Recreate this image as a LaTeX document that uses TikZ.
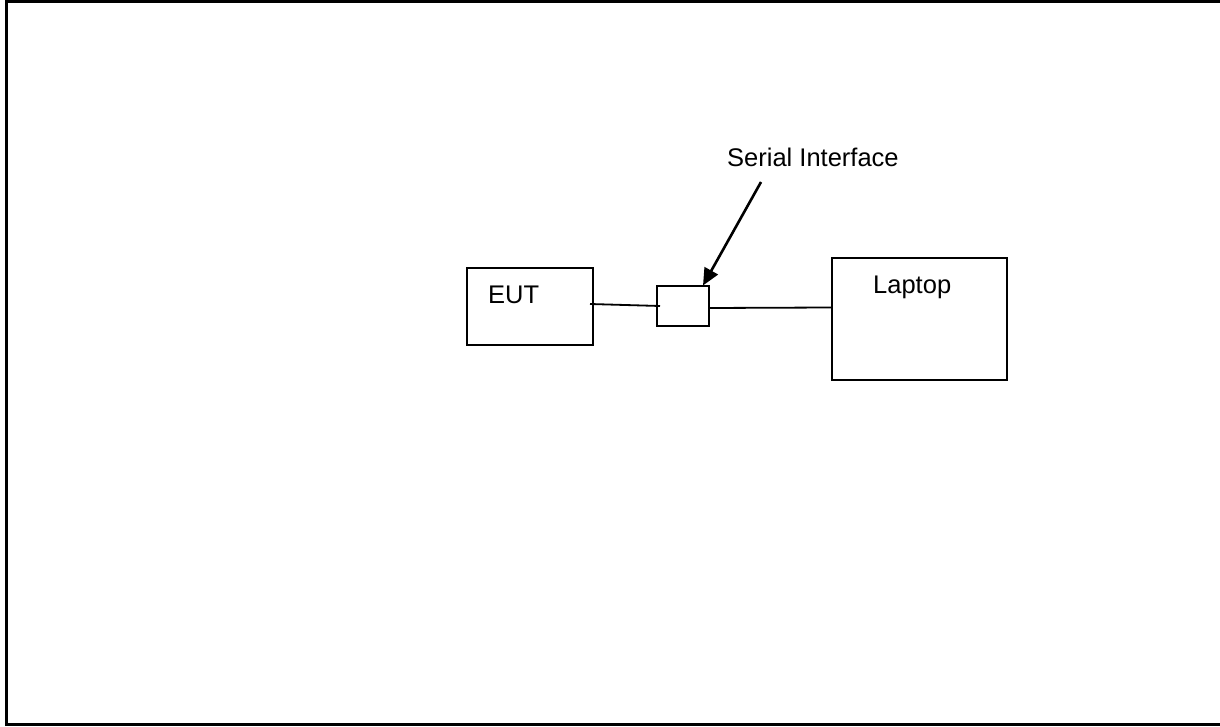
\documentclass[tikz,border=0pt]{standalone}
\usepackage{fontspec}
\setmainfont{Liberation Sans}
\usetikzlibrary{arrows.meta}
\begin{document}
\begin{tikzpicture}[x=1pt,y=-1pt,
  box/.style={draw=black,line width=2pt,inner sep=0pt,minimum width=#1},
  lbl/.style={anchor=base west,inner sep=0pt,font=\fontsize{25.5}{30}\selectfont},
  wire/.style={draw=black,line width=1.8pt},
  pointer/.style={draw=black,line width=2.6pt,-{Triangle[length=17pt,width=15pt]}},
  frame/.style={draw=black,line width=3.2pt}]
\useasboundingbox (0,0) rectangle (1220,727);
% outer frame (left, top, bottom)
\coordinate (ftr) at (1220,1.6);
\coordinate (ftl) at (6.5,1.6);
\coordinate (fbl) at (6.5,724.8);
\coordinate (fbr) at (1220,724.8);
\draw[frame] (ftr) -- (ftl) -- (fbl) -- (fbr);
% boxes
\node[box=126pt,minimum height=77pt] (eut) at (530,306.5) {};
\node[box=175pt,minimum height=122pt] (laptop) at (919,319) {};
\node[box=52pt,minimum height=40pt] (sib) at (683,306) {};
% labels
\node[lbl] (eutlbl) at (488,303) {EUT};
\node[lbl] (laptoplbl) at (873,293) {Laptop};
\node[lbl] (serlbl) at (727,166.5) {Serial Interface};
% connectors
\coordinate (w1a) at (590,304);
\coordinate (w1b) at (660,306);
\draw[wire] (w1a) -- (w1b);
\coordinate (w2a) at (709,308);
\coordinate (w2b) at (831,307.5);
\draw[wire] (w2a) -- (w2b);
\coordinate (arrs) at (761,182);
\coordinate (arre) at (703,285.5);
\draw[pointer] (arrs) -- (arre);
\end{tikzpicture}
\end{document}
